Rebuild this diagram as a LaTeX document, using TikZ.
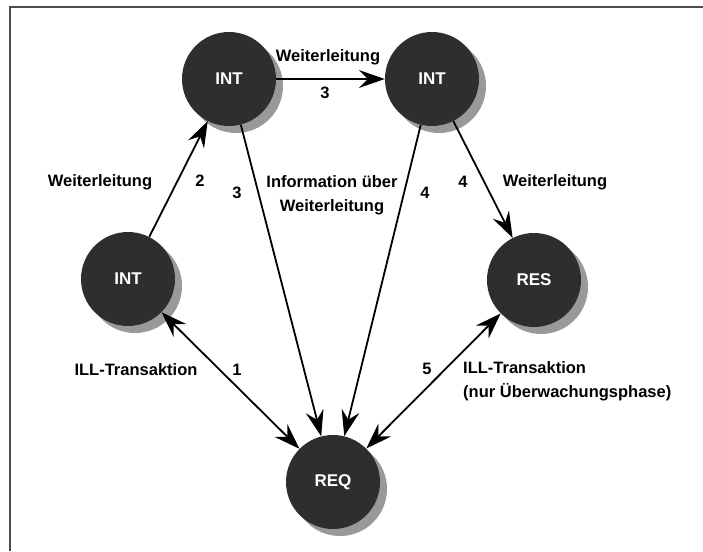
\documentclass[tikz,border=0pt]{standalone}
\usepackage{fontspec}
\setmainfont{Liberation Sans}
\usetikzlibrary{arrows.meta}

\begin{document}
\begin{tikzpicture}[x=1pt,y=-1pt,
  station/.style={circle,fill=black!82,minimum size=94pt,inner sep=0pt,
    text=white,font=\fontsize{17}{19}\selectfont\bfseries},
  lbl/.style={font=\fontsize{16.5}{24}\selectfont\bfseries,inner sep=0pt},
  flow/.style={line width=1.8pt,-{Stealth[length=26pt,width=18pt,inset=9pt]}},
  both/.style={line width=1.8pt,{Stealth[length=26pt,width=18pt,inset=9pt]}-{Stealth[length=26pt,width=18pt,inset=9pt]}}]
\useasboundingbox (0,0) rectangle (703,551);

% frame
\draw[line width=1.2pt,black!70] (10,551) -- (10,7) -- (703,7);

% create the nodes, each with its shadow
\foreach \name/\px/\py/\txt in {intA/128/279/INT, intB/229/79/INT, intC/432/79/INT,
    res/534/280/RES, req/333/482/REQ}{
  \fill[black!40] (\px+7,\py+7) circle (47pt);
  \node[station] (\name) at (\px,\py) {\txt};
}

% connectors
\draw[flow] (intA) -- (intB);
\draw[flow] (intB) -- (intC);
\draw[flow] (intB) -- (req);
\draw[flow] (intC) -- (req);
\draw[flow] (intC) -- (res);
\draw[both] (intA) -- (req);
\draw[both] (res) -- (req);

% labels
\node[lbl] (wA) at (100,182) {Weiterleitung};
\node[lbl] (nA) at (200,181) {2};
\node[lbl] (wB) at (328,57) {Weiterleitung};
\node[lbl] (nB) at (325,93) {3};
\node[lbl] (nC) at (237,193) {3};
\node[lbl,align=center] (info) at (332,195) {Information über\\Weiterleitung};
\node[lbl] (nD) at (425,193) {4};
\node[lbl] (nE) at (463,182) {4};
\node[lbl] (wC) at (555,182) {Weiterleitung};
\node[lbl] (ill) at (136,370) {ILL-Transaktion};
\node[lbl] (nF) at (237,370) {1};
\node[lbl] (nG) at (427,369) {5};
\node[lbl,align=left,anchor=west] (illRes) at (463,381) {ILL-Transaktion\\(nur Überwachungsphase)};

\end{tikzpicture}
\end{document}
